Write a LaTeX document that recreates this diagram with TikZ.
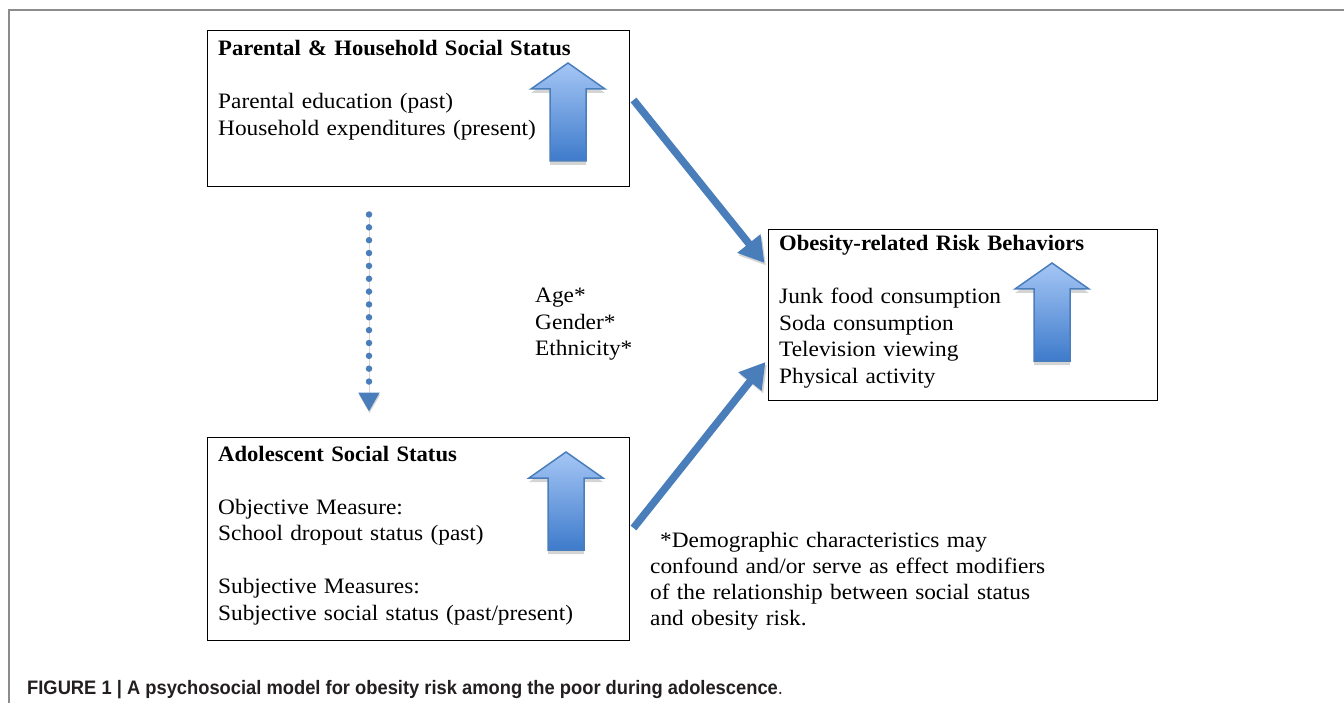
\documentclass[tikz,border=0pt]{standalone}
\usepackage{fontspec}
\setmainfont{Liberation Serif}[FakeStretch=1.06, BoldFeatures={FakeStretch=1.03}]
\newfontfamily\capfont{Liberation Sans}[FakeStretch=0.94]
\usetikzlibrary{arrows.meta,calc}
\definecolor{ArrowBlue}{HTML}{4A7EBB}
\definecolor{ShadeTop}{HTML}{A5C6F5}
\definecolor{ShadeBottom}{HTML}{3E7BCB}
\definecolor{FrameGray}{HTML}{8C8C8C}
\definecolor{ShadowGray}{HTML}{D4D4D4}
\definecolor{CapColor}{HTML}{231F20}
\newcommand\txtparent{\textbf{Parental \& Household Social Status}\\[26.5pt]
Parental education (past)\\ Household expenditures (present)}
\newcommand\txtrisk{\textbf{Obesity-related Risk Behaviors}\\[26.5pt]
Junk food consumption\\ Soda consumption\\ Television viewing\\ Physical activity}
\newcommand\txtadol{\textbf{Adolescent Social Status}\\[26.5pt]
Objective Measure:\\ School dropout status (past)\\[26.5pt]
Subjective Measures:\\ Subjective social status (past/present)}
\newcommand\txtdemo{Age*\\ Gender*\\ Ethnicity*}
\newcommand\txtnote{\hspace*{10pt}*Demographic characteristics may\\
confound and/or serve as effect modifiers\\
of the relationship between social status\\
and obesity risk.}
\newcommand\txtcaption{{\bfseries FIGURE 1 | A psychosocial model for obesity risk among the poor during adolescence}.}
% block arrow pointing up, tip at (#1,#2)
\newcommand\blockup[2]{
\begin{scope}[shift={(#1,#2)}]
\fill[ShadowGray] (0,4) -- (37,30) -- (18,30) -- (18,102) -- (-18,102) -- (-18,30) -- (-37,30) -- cycle;
\draw[draw=ArrowBlue, line width=1.5pt, top color=ShadeTop, bottom color=ShadeBottom]
 (0,0) -- (37,26) -- (18,26) -- (18,98) -- (-18,98) -- (-18,26) -- (-37,26) -- cycle;
\end{scope}}
\tikzstyle{boxstyle} = [rectangle, draw=black, line width=1pt, inner sep=0pt]
\tikzstyle{txt} = [anchor=base west, inner sep=0pt, text width=450pt, align=left, font=\fontsize{22}{26.5}\selectfont]
\tikzstyle{fatarrow} = [draw=ArrowBlue, line width=7.5pt, -{Triangle[length=25pt,width=28pt]},
 preaction={draw=ShadowGray, transform canvas={shift={(1.5pt,-2.5pt)}}}]
\tikzstyle{dotarrow} = [draw=ArrowBlue, line width=6.5pt, line cap=round, dash pattern=on 0pt off 12.85pt,
 -{Triangle[length=19pt,width=20pt]},
 preaction={draw=ShadowGray, transform canvas={shift={(0.5pt,-2pt)}}}]

\begin{document}
\begin{tikzpicture}[x=1pt, y=-1pt]
\useasboundingbox (0,0) rectangle (1344,703);
\draw[FrameGray, line width=1.2pt] (9,703) -- (9,10) -- (1344,10);
\node[boxstyle, minimum width=422pt, minimum height=156pt] (parent) at (418,109) {};
\node[boxstyle, minimum width=389pt, minimum height=170pt] (risk) at (962.5,315) {};
\node[boxstyle, minimum width=422pt, minimum height=203pt] (adol) at (418,538.5) {};
\node[txt] (parenttxt) at (218,56) {\txtparent};
\node[txt] (risktxt) at (779,251) {\txtrisk};
\node[txt] (adoltxt) at (218,461) {\txtadol};
\node[txt] (demo) at (535,303) {\txtdemo};
\node[txt, font=\fontsize{22}{26.3}\selectfont] (note) at (650,547) {\txtnote};
\node[anchor=base west, inner sep=0pt, text=CapColor, font=\capfont\fontsize{19.5}{22}\selectfont] (caption) at (27,694) {\txtcaption};
\blockup{568}{63}
\blockup{1052}{263}
\blockup{566}{452}
\draw[fatarrow] ([xshift=4pt, yshift=9pt]parent.east) -- ([xshift=-3pt, yshift=52pt]risk.west);
\draw[fatarrow] ([xshift=4pt, yshift=10.5pt]adol.east) -- ([xshift=-2pt, yshift=-47pt]risk.west);
\draw[dotarrow] ([xshift=-49pt, yshift=-27pt]parent.south) -- ([xshift=-49pt, yshift=25pt]adol.north);
\end{tikzpicture}
\end{document}
